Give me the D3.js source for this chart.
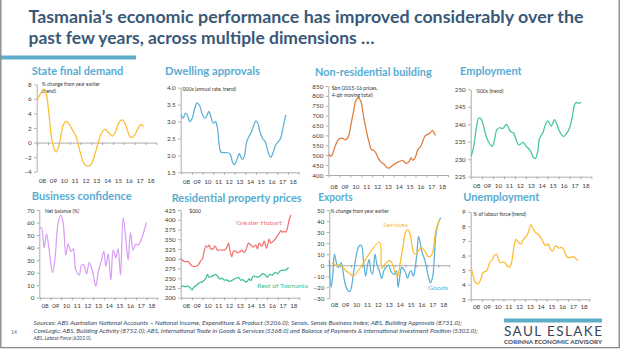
<!DOCTYPE html>
<html><head><meta charset="utf-8">
<script src="https://cdn.jsdelivr.net/npm/d3@7"></script>
<style>
html,body{margin:0;padding:0;background:#fff;}
svg{display:block;font-family:Lato,"Open Sans",sans-serif;}
.ptitle{font-weight:700;font-size:11px;fill:#58acd2;}
.tick text{font-size:6.3px;fill:#404040;font-family:Lato,sans-serif;}
.axis path,.axis line{stroke:#8a8a8a;stroke-width:0.7;}
.unit{font-size:5px;fill:#333;}
.xlab{font-size:6.3px;fill:#404040;}
</style></head><body>
<svg id="c" width="620" height="349"></svg>
<script>
// Year band labels shared by every panel
const yearLabels = ["08","09","10","11","12","13","14","15","16","17","18"];

// [decimal year, value]
const stateFinalDemand = [[2008.00,5.8],[2008.22,6.5],[2008.43,7.0],[2008.68,7.3],[2008.83,6.8],[2009.08,4.0],[2009.29,1.0],[2009.51,-0.6],[2009.75,-1.3],[2010.00,-0.5],[2010.22,1.2],[2010.43,2.5],[2010.68,2.9],[2010.92,2.6],[2011.23,1.8],[2011.54,1.0],[2011.75,0.0],[2012.06,-1.8],[2012.37,-3.0],[2012.68,-3.25],[2012.98,-3.0],[2013.29,-1.8],[2013.60,-0.2],[2013.91,1.2],[2014.22,1.8],[2014.43,1.6],[2014.68,1.2],[2014.92,0.9],[2015.14,1.2],[2015.45,2.4],[2015.66,3.0],[2015.91,3.1],[2016.15,2.5],[2016.37,1.5],[2016.58,0.8],[2016.77,0.7],[2016.98,1.0],[2017.20,1.6],[2017.45,2.3],[2017.60,2.5],[2017.82,2.2]];

const dwellingApprovals = [[2008.00,3.2],[2008.19,3.1],[2008.40,3.25],[2008.56,3.2],[2008.81,3.0],[2009.03,3.1],[2009.28,3.4],[2009.50,3.55],[2009.75,3.45],[2010.00,3.2],[2010.22,3.1],[2010.38,3.15],[2010.59,3.3],[2010.78,3.15],[2011.00,2.95],[2011.22,3.0],[2011.40,2.8],[2011.56,2.3],[2011.72,2.1],[2011.94,2.08],[2012.25,2.08],[2012.56,2.05],[2012.81,1.8],[2012.97,1.72],[2013.19,1.85],[2013.44,2.05],[2013.59,1.95],[2013.75,1.88],[2013.94,2.0],[2014.13,2.4],[2014.34,2.55],[2014.59,2.7],[2014.81,2.9],[2015.00,3.02],[2015.19,2.95],[2015.38,2.7],[2015.63,2.5],[2015.88,2.4],[2016.06,2.2],[2016.25,2.0],[2016.40,1.95],[2016.63,2.1],[2016.84,2.3],[2017.09,2.4],[2017.31,2.5],[2017.56,2.85],[2017.81,3.2]];

const nonResidential = [[2008.00,505],[2008.22,495],[2008.37,510],[2008.62,550],[2008.83,575],[2009.05,585],[2009.29,585],[2009.51,578],[2009.66,582],[2009.85,600],[2010.06,660],[2010.28,720],[2010.46,770],[2010.68,790],[2010.83,785],[2010.98,770],[2011.14,720],[2011.29,670],[2011.45,630],[2011.60,590],[2011.75,560],[2011.91,530],[2012.12,525],[2012.31,515],[2012.52,490],[2012.74,470],[2012.92,462],[2013.14,452],[2013.35,438],[2013.54,435],[2013.75,442],[2014.06,455],[2014.37,465],[2014.68,472],[2014.89,472],[2015.08,460],[2015.29,462],[2015.45,472],[2015.60,487],[2015.75,475],[2015.91,482],[2016.06,500],[2016.22,528],[2016.43,540],[2016.62,562],[2016.77,585],[2016.92,600],[2017.14,605],[2017.35,612],[2017.54,625],[2017.66,620],[2017.85,600]];

const employment = [[2008.00,231],[2008.15,232.5],[2008.30,235],[2008.52,240],[2008.70,241.8],[2008.91,241.5],[2009.13,239.5],[2009.37,236.5],[2009.68,234.5],[2009.92,233.7],[2010.13,235.5],[2010.35,238.5],[2010.59,239],[2010.90,238.8],[2011.20,240],[2011.35,239.5],[2011.57,238],[2011.87,237.5],[2012.12,235.5],[2012.36,234],[2012.73,234.8],[2013.09,233.5],[2013.40,232.5],[2013.70,230.5],[2013.88,230.2],[2014.10,232.5],[2014.25,236],[2014.55,237.5],[2014.80,240],[2015.01,241],[2015.32,239.5],[2015.62,241.3],[2015.84,240],[2016.08,238],[2016.45,236.5],[2016.69,237.2],[2017.00,239],[2017.24,242],[2017.45,245.5],[2017.60,246.2],[2017.85,246],[2018.06,246.3]];

const businessConfidence = [[2008.00,55],[2008.16,56],[2008.41,40],[2008.63,51],[2008.88,38],[2009.19,20],[2009.41,30],[2009.72,60],[2009.97,66],[2010.19,60],[2010.44,34],[2010.66,43],[2010.91,37],[2011.13,39],[2011.38,22],[2011.69,18],[2011.91,26],[2012.13,26],[2012.38,19],[2012.63,28],[2012.84,24],[2013.00,19],[2013.25,9],[2013.47,20],[2013.78,30],[2014.00,37],[2014.19,25],[2014.41,35],[2014.66,14],[2014.88,38],[2015.13,32],[2015.34,39],[2015.56,18],[2015.81,64],[2016.06,47],[2016.28,30],[2016.50,52],[2016.75,38],[2017.00,43],[2017.22,42],[2017.53,47],[2018.00,60]];

const greaterHobart = [[2008.00,300],[2008.12,296],[2008.37,292],[2008.59,293],[2008.81,287],[2008.99,282],[2009.21,280],[2009.43,281],[2009.61,285],[2009.83,295],[2009.99,300],[2010.14,320],[2010.30,333],[2010.45,330],[2010.61,335],[2010.76,325],[2010.98,326],[2011.17,332],[2011.39,322],[2011.70,323],[2012.01,322],[2012.22,327],[2012.41,340],[2012.53,322],[2012.72,305],[2012.84,318],[2013.03,320],[2013.25,315],[2013.47,318],[2013.65,322],[2013.87,316],[2014.02,322],[2014.27,340],[2014.49,335],[2014.71,330],[2014.96,335],[2015.11,325],[2015.27,340],[2015.52,332],[2015.73,345],[2015.95,327],[2016.20,350],[2016.35,340],[2016.57,345],[2016.76,350],[2016.98,360],[2017.13,365],[2017.29,372],[2017.44,368],[2017.60,370],[2017.75,368],[2017.91,380],[2018.06,400],[2018.22,412]];

const restOfTasmania = [[2008.00,228],[2008.12,230],[2008.37,228],[2008.59,230],[2008.81,226],[2008.99,220],[2009.21,228],[2009.43,232],[2009.68,238],[2009.93,240],[2010.14,245],[2010.30,250],[2010.45,260],[2010.61,252],[2010.86,255],[2011.07,258],[2011.23,260],[2011.39,255],[2011.60,248],[2011.79,250],[2012.01,245],[2012.22,246],[2012.47,242],[2012.72,244],[2012.94,248],[2013.16,250],[2013.34,252],[2013.56,245],[2013.78,246],[2014.02,240],[2014.18,243],[2014.34,248],[2014.49,244],[2014.71,255],[2014.89,255],[2015.11,253],[2015.33,255],[2015.58,262],[2015.83,258],[2016.04,253],[2016.26,260],[2016.51,258],[2016.76,265],[2016.98,262],[2017.19,268],[2017.38,270],[2017.60,271],[2017.81,272],[2018.00,278]];

const goodsExports = [[2008.00,5],[2008.16,-20],[2008.31,-10],[2008.47,10],[2008.63,3],[2008.78,-2],[2008.94,0],[2009.09,2],[2009.25,-5],[2009.41,-15],[2009.63,-22],[2009.88,-24],[2010.03,-20],[2010.25,-5],[2010.50,10],[2010.72,17],[2010.94,18],[2011.13,5],[2011.34,-10],[2011.50,0],[2011.66,5],[2011.81,-5],[2011.97,-8],[2012.19,10],[2012.38,0],[2012.59,-5],[2012.81,-12],[2013.00,-5],[2013.22,-2],[2013.44,0],[2013.63,-5],[2013.84,-8],[2014.00,-8],[2014.16,-5],[2014.31,-20],[2014.47,-10],[2014.63,-2],[2014.78,-3],[2015.00,-7],[2015.19,-12],[2015.31,-8],[2015.50,-5],[2015.72,-10],[2015.88,-2],[2016.03,10],[2016.19,26],[2016.34,20],[2016.50,12],[2016.75,5],[2016.97,-5],[2017.13,-12],[2017.28,-16],[2017.50,-10],[2017.59,0],[2017.81,30],[2018.06,40],[2018.22,43]];

const servicesExports = [[2008.22,2],[2008.63,0],[2008.94,0],[2009.25,-2],[2009.56,-5],[2009.94,-8],[2010.19,-10],[2012.59,21],[2012.81,-3],[2013.06,0],[2013.44,4],[2013.69,3],[2014.00,-6],[2014.25,-10],[2014.47,0],[2014.78,18],[2015.00,30],[2015.19,32],[2015.41,28],[2015.72,12],[2015.94,10],[2016.25,14],[2016.50,16],[2016.81,12],[2017.06,8],[2017.28,8],[2017.50,12],[2017.75,30],[2017.91,35],[2018.13,42]];

const unemploymentRate = [[2008.00,5.2],[2008.18,4.6],[2008.40,4.15],[2008.62,4.05],[2008.86,4.3],[2009.11,4.85],[2009.32,4.9],[2009.48,5.0],[2009.72,5.5],[2009.94,5.7],[2010.15,6.0],[2010.34,6.1],[2010.55,5.7],[2010.71,5.5],[2010.95,5.55],[2011.17,5.5],[2011.32,5.3],[2011.57,5.2],[2011.78,5.6],[2012.00,6.7],[2012.18,7.1],[2012.40,6.9],[2012.62,6.8],[2012.86,7.1],[2013.11,7.3],[2013.32,7.6],[2013.54,8.1],[2013.72,7.9],[2013.94,7.6],[2014.15,7.5],[2014.40,7.3],[2014.65,7.0],[2014.86,6.7],[2015.02,6.7],[2015.17,6.8],[2015.32,6.5],[2015.57,6.3],[2015.78,6.6],[2015.94,6.65],[2016.18,6.5],[2016.40,6.55],[2016.62,6.4],[2016.86,5.95],[2017.11,5.85],[2017.32,5.9],[2017.54,5.9],[2017.78,5.75],[2017.94,5.65]];

const sourceLines = [
  "Sources: ABS Australian National Accounts \u2013 National Income, Expenditure & Product (5206.0); Sensis, Sensis Business Index; ABS, Building Approvals (8731.0);",
  "CoreLogic; ABS, Building Activity (8752.0); ABS, International Trade in Goods & Services (5368.0) and Balance of Payments & International Investment Position (5302.0);",
  "ABS, Labour Force (6202.0)."
];

const YELLOW = "#fbbd2e", BLUE = "#5cb0d8", ORANGE = "#e07a3a", GREEN = "#43c79e",
      VIOLET = "#d99ef4", RED = "#f47270", GREEN2 = "#3dbf8c";

const svg = d3.select("#c");

// Panel layouts: title box, axis placement, scales, series
const panels = [
  {title:"State final demand", tx:31.7, ty:74.5, tw:91.6, axisX:36.7, x0:37.2, bw:10.83,
   yDomain:[-4,8], yRange:[171.7,84.3], yTicks:[-4,-2,0,2,4,6,8], fmt:d3.format("d"), xAt:0, labelY:182.5,
   units:["% change from year earlier","(trend)"], ux:41.7, uy:86, series:[{data:stateFinalDemand,color:YELLOW}]},
  {title:"Dwelling approvals", tx:165, ty:75, tw:95, axisX:180.7, x0:181.2, bw:10.67,
   yDomain:[1.5,4.0], yRange:[172.3,87.7], yTicks:[1.5,2.0,2.5,3.0,3.5,4.0], fmt:d3.format(".1f"), xAt:1.5, labelY:184,
   units:["'000s (annual rate, trend)"], ux:181.7, uy:91, series:[{data:dwellingApprovals,color:BLUE}]},
  {title:"Non-residential building", tx:315, ty:75.5, tw:116.7, axisX:328.3, x0:328.8, bw:10.83,
   yDomain:[400,850], yRange:[175,86], yTicks:d3.range(400,851,50), fmt:d3.format("d"), xAt:400, labelY:188.5,
   units:["$bn (2015-16 prices,","4-qtr moving total)"], ux:331.7, uy:90, series:[{data:nonResidential,color:ORANGE}]},
  {title:"Employment", tx:460, ty:75, tw:61.7, axisX:470.7, x0:471.2, bw:10.93,
   yDomain:[225,250], yRange:[176.7,89.3], yTicks:d3.range(225,251,5), fmt:d3.format("d"), xAt:225, labelY:188,
   units:["'000s (trend)"], ux:476, uy:92.7, series:[{data:employment,color:GREEN}]},
  {title:"Business confidence", tx:31.7, ty:200, tw:100, axisX:39.3, x0:39.8, bw:10.67,
   yDomain:[0,70], yRange:[297.7,210], yTicks:d3.range(0,71,10), fmt:d3.format("d"), xAt:0, labelY:308,
   units:["Net balance (%)"], ux:45, uy:213.4, series:[{data:businessConfidence,color:VIOLET}]},
  {title:"Residential property prices", tx:171.7, ty:201.5, tw:130, axisX:180.7, x0:181.2, bw:10.73,
   yDomain:[200,425], yRange:[297.7,210], yTicks:d3.range(200,426,25), fmt:d3.format("d"), xAt:200, labelY:308,
   units:["$000"], ux:189.3, uy:213.4,
   series:[{data:greaterHobart,color:RED},{data:restOfTasmania,color:GREEN2}],
   notes:[{text:"'Greater Hobart'",x:235,y:224.7,w:48,color:RED},{text:"Rest of Tasmania",x:257,y:288,w:51,color:GREEN2}]},
  {title:"Exports", tx:318.3, ty:200.5, tw:34.4, axisX:329.3, x0:329.3, bw:10.9,
   yDomain:[-30,50], yRange:[298.3,210], yTicks:d3.range(-30,51,10), fmt:d3.format("d"), xAt:0, labelY:307,
   units:["% change from year earlier"], ux:330.5, uy:212.7,
   series:[{data:goodsExports,color:BLUE},{data:servicesExports,color:YELLOW}],
   notes:[{text:"Services",x:383,y:227,w:25,color:YELLOW},{text:"Goods",x:428,y:290.3,w:20,color:BLUE}]},
  {title:"Unemployment", tx:463.3, ty:200.5, tw:76, axisX:470.7, x0:471.2, bw:10.75,
   yDomain:[3,9], yRange:[299.3,211.7], yTicks:d3.range(3,10,1), fmt:d3.format("d"), xAt:3, labelY:309,
   units:["% of labour force (trend)"], ux:473.3, uy:216, series:[{data:unemploymentRate,color:YELLOW}]}
];

function drawPanel(p) {
  const x = d3.scaleLinear().domain([2008, 2019]).range([p.x0, p.x0 + 11 * p.bw]);
  const y = d3.scaleLinear().domain(p.yDomain).range(p.yRange);
  const g = svg.append("g");

  g.append("text").attr("class", "ptitle")
    .attr("x", p.tx).attr("y", p.ty)
    .attr("textLength", p.tw).attr("lengthAdjust", "spacingAndGlyphs")
    .text(p.title);

  g.append("g").attr("class", "axis")
    .attr("transform", `translate(${p.axisX},0)`)
    .call(d3.axisLeft(y).tickValues(p.yTicks).tickSize(2.5).tickSizeOuter(0).tickPadding(2.5).tickFormat(p.fmt));

  g.append("g").attr("class", "axis")
    .attr("transform", `translate(0,${y(p.xAt)})`)
    .call(d3.axisBottom(x).tickValues(d3.range(2008, 2020)).tickSize(2.5).tickSizeOuter(0).tickFormat(""));

  g.selectAll(".xlab").data(yearLabels).join("text")
    .attr("class", "xlab")
    .attr("x", (d, i) => x(2008.5 + i)).attr("y", p.labelY)
    .attr("text-anchor", "middle")
    .text(d => d);

  p.units.forEach((u, i) => {
    g.append("text").attr("class", "unit")
      .attr("x", p.ux).attr("y", p.uy + i * 6.7)
      .text(u);
  });

  const line = d3.line().x(d => x(d[0])).y(d => y(d[1])).curve(d3.curveCatmullRom.alpha(0.5));
  p.series.forEach(s => {
    g.append("path").datum(s.data)
      .attr("d", line)
      .attr("fill", "none").attr("stroke", s.color)
      .attr("stroke-width", 1.25).attr("stroke-linejoin", "round");
  });

  (p.notes || []).forEach(n => {
    g.append("text").attr("x", n.x).attr("y", n.y)
      .attr("textLength", n.w).attr("lengthAdjust", "spacingAndGlyphs")
      .attr("font-size", 5.8).attr("fill", n.color)
      .text(n.text);
  });
}

// Slide header
svg.append("text").attr("x", 28.5).attr("y", 22.5)
  .attr("textLength", 555).attr("lengthAdjust", "spacingAndGlyphs")
  .attr("font-size", 16.5).attr("font-weight", 700).attr("fill", "#3a5877")
  .text("Tasmania\u2019s economic performance has improved considerably over the");
svg.append("text").attr("x", 28.5).attr("y", 43.5)
  .attr("textLength", 346).attr("lengthAdjust", "spacingAndGlyphs")
  .attr("font-size", 16.5).attr("font-weight", 700).attr("fill", "#3a5877")
  .text("past few years, across multiple dimensions \u2026");
svg.append("rect").attr("x", 0).attr("y", 55.5).attr("width", 136).attr("height", 4).attr("fill", "#5eaecb");

panels.forEach(drawPanel);

// Footer: sources, page number, logo
const srcWidths = [428, 444, 58];
sourceLines.forEach((t, i) => {
  svg.append("text").attr("x", 33.6).attr("y", 325 + i * 7.7)
    .attr("textLength", srcWidths[i]).attr("lengthAdjust", "spacingAndGlyphs")
    .attr("font-size", 5.2).attr("font-style", "italic").attr("fill", "#33496a")
    .text(t);
});
svg.append("text").attr("x", 11).attr("y", 334).attr("font-size", 5).attr("fill", "#666").text("14");

svg.append("rect").attr("x", 504).attr("y", 318.5).attr("width", 98).attr("height", 4).attr("fill", "#5eaecb");
svg.append("text").attr("x", 504).attr("y", 336)
  .attr("textLength", 98).attr("lengthAdjust", "spacing")
  .attr("font-size", 13.5).attr("fill", "#3c4555")
  .text("SAUL ESLAKE");
svg.append("text").attr("x", 504).attr("y", 343.5)
  .attr("textLength", 98).attr("lengthAdjust", "spacingAndGlyphs")
  .attr("font-size", 5.6).attr("font-weight", 700).attr("fill", "#3c4555")
  .text("CORINNA ECONOMIC ADVISORY");

// Slide frame
svg.append("path").attr("d", "M0.8,0 V347.6 H619.2 V0")
  .attr("fill", "none").attr("stroke", "#8a8a8a").attr("stroke-width", 1.4);
</script></body></html>
